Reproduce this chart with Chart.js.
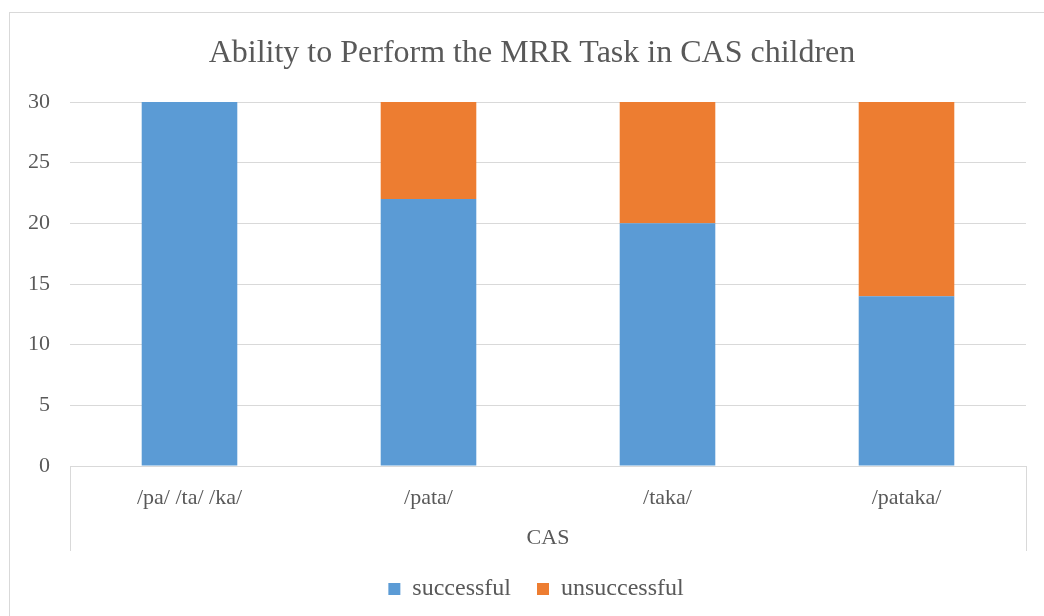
<!DOCTYPE html>
<html>
  <head>
    <title>MRR Task in CAS children</title>
    <script src="https://cdn.jsdelivr.net/npm/chart.js"></script>
    <style>
      html,
      body {
        margin: 0;
        padding: 0;
        background: #fff;
        overflow: hidden;
      }

      .frame {
        position: absolute;
        left: 9px;
        top: 12px;
        width: 1100px;
        height: 700px;
        border: 1px solid #d9d9d9;
        box-sizing: border-box;
      }

      .wrap {
        position: absolute;
        left: 0;
        top: 0;
        width: 1044px;
        height: 616px;
      }
    </style>
  </head>
  <body>
    <div class="frame"></div>
    <div class="wrap">
      <canvas id="barGraph"></canvas>
    </div>
    <script>
      const categories = ["/pa/ /ta/ /ka/", "/pata/", "/taka/", "/pataka/"];
      const successful = [30, 22, 20, 14];
      const unsuccessful = [0, 8, 10, 16];
      const yTicks = [0, 5, 10, 15, 20, 25, 30];

      const textColor = "#595959";
      const lineColor = "#d9d9d9";

      Chart.defaults.font.family = "'Liberation Serif', 'Times New Roman', serif";
      Chart.defaults.color = textColor;

      // side lines of the grouped category axis (Excel multi-level labels)
      const groupLines = {
        id: "groupLines",
        afterLayout(chart) {
          // Excel centres title and legend on the whole chart frame
          if (chart.titleBlock) {
            chart.titleBlock.left = 38;
            chart.titleBlock.right = 1026;
          }
          if (chart.legend) {
            chart.legend.left = 46;
            chart.legend.right = 1026;
          }
        },
        afterDraw(chart) {
          const x = chart.scales.x;
          const ctx = chart.ctx;
          ctx.save();
          ctx.strokeStyle = lineColor;
          ctx.lineWidth = 1;
          ctx.beginPath();
          ctx.moveTo(Math.round(x.left) + 0.5, x.top);
          ctx.lineTo(Math.round(x.left) + 0.5, x.bottom);
          ctx.moveTo(Math.round(x.right) + 0.5, x.top);
          ctx.lineTo(Math.round(x.right) + 0.5, x.bottom);
          ctx.stroke();
          ctx.restore();
        },
      };

      const data = {
        labels: categories,
        datasets: [
          {
            label: "successful",
            data: successful,
            backgroundColor: "#5B9BD5",
            barPercentage: 0.4,
            categoryPercentage: 1,
          },
          {
            label: "unsuccessful",
            data: unsuccessful,
            backgroundColor: "#ED7D31",
            barPercentage: 0.4,
            categoryPercentage: 1,
          },
        ],
      };

      const config = {
        type: "bar",
        data: data,
        options: {
          responsive: true,
          maintainAspectRatio: false,
          animation: false,
          layout: {
            padding: { left: 0, right: 18, top: 34, bottom: 5 },
          },
          plugins: {
            title: {
              display: true,
              text: "Ability to Perform the MRR Task in CAS children",
              color: textColor,
              font: { size: 32, weight: "normal" },
              padding: { top: 0, bottom: 29.6 },
            },
            legend: {
              position: "bottom",
              labels: {
                boxWidth: 12,
                boxHeight: 12,
                padding: 26,
                color: textColor,
                font: { size: 24 },
              },
            },
            tooltip: { enabled: false },
          },
          scales: {
            x: {
              stacked: true,
              grid: { display: false },
              border: { display: true, color: lineColor, width: 1 },
              ticks: { padding: 11, font: { size: 22 }, color: textColor },
              title: {
                display: true,
                text: "CAS",
                color: textColor,
                font: { size: 22 },
                padding: { top: 0, bottom: 0 },
              },
              afterFit(scale) {
                scale.height = 85;
              },
            },
            y: {
              stacked: true,
              min: 0,
              max: 30,
              afterBuildTicks(scale) {
                scale.ticks = yTicks.map((v) => ({ value: v }));
              },
              grid: { color: lineColor, drawTicks: false },
              border: { display: false },
              ticks: { padding: 20, font: { size: 22 }, color: textColor },
              afterFit(scale) {
                scale.width = 70;
              },
            },
          },
        },
        plugins: [groupLines],
      };

      new Chart(document.getElementById("barGraph"), config);
    </script>
  </body>
</html>
